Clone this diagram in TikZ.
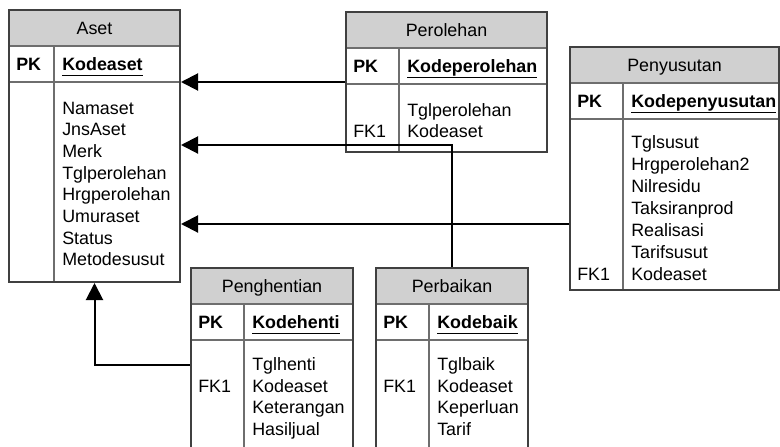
\documentclass[tikz,border=0pt]{standalone}
\usepackage{fontspec}
\setmainfont{Liberation Sans}
\usetikzlibrary{arrows.meta}

\definecolor{hdrfill}{RGB}{208,208,208}
\definecolor{edge}{RGB}{64,64,64}
\definecolor{rowline}{RGB}{110,110,110}

\newcommand{\entfont}{\fontsize{13.4}{16}\selectfont}

\tikzset{
  entbox/.style={draw=edge, line width=1.5pt, inner sep=0pt},
  hdrband/.style={fill=hdrfill},
  rowrule/.style={draw=rowline, line width=1.5pt},
  enttitle/.style={inner sep=0pt, anchor=base, font=\entfont},
  cell/.style={anchor=base west, inner sep=0pt, font=\entfont},
  keycell/.style={cell, font=\entfont\bfseries},
  link/.style={draw=black, line width=1.5pt, -{Triangle[length=12.75pt,width=12.75pt]}},
}

% entity table: name, x-left, x-right, y-top, y-bottom, x-divider, title, primary key
\newcommand{\ertable}[8]{%
  \fill[white] (#2,#4) rectangle (#3,#5);
  \fill[hdrband] (#2,#4) rectangle (#3,#4+36);
  \draw[rowrule] (#2,#4+36) -- (#3,#4+36);
  \draw[rowrule] (#2,#4+72) -- (#3,#4+72);
  \draw[rowrule] (#6,#4+36) -- (#6,#5);
  \node[entbox, minimum width={(#3-#2)*0.75pt}, minimum height={(#5-#4)*0.75pt}] (#1) at ({(#2+#3)/2},{(#4+#5)/2}) {};
  \node[enttitle] (#1-title) at ({(#2+#3)/2},#4+24) {#7};
  \node[keycell] (#1-pk) at (#2+7,#4+60) {PK};
  \node[keycell] (#1-key) at (#6+8,#4+60) {\underline{#8\vphantom{p}}};
}

\begin{document}
\begin{tikzpicture}[x=0.75pt,y=-0.75pt]
\useasboundingbox (0,0) rectangle (780,446);
\fill[white] (0,0) rectangle (780,446);
\clip (0,0) rectangle (780,446);

% tables
\ertable{aset}{9}{180}{10}{282}{54}{Aset}{Kodeaset}
\ertable{perolehan}{346}{547}{12}{152}{399}{Perolehan}{Kodeperolehan}
\ertable{penyusutan}{570}{779}{47}{290}{623}{Penyusutan}{Kodepenyusutan}
\ertable{penghentian}{191}{353}{268}{470}{244}{Penghentian}{Kodehenti}
\ertable{perbaikan}{376}{528}{268}{470}{429}{Perbaikan}{Kodebaik}

% attribute lists
\foreach \t [count=\i from 0] in {Namaset,JnsAset,Merk,Tglperolehan,Hrgperolehan,Umuraset,Status,Metodesusut}
  \node[cell] (aset-a\i) at (62,114+\i*21.7) {\t};

\foreach \t [count=\i from 0] in {Tglperolehan,Kodeaset}
  \node[cell] (perolehan-a\i) at (407,116+\i*21.7) {\t};
\node[cell] (perolehan-fk) at (353,137.7) {FK1};

\foreach \t [count=\i from 0] in {Tglsusut,Hrgperolehan2,Nilresidu,Taksiranprod,Realisasi,Tarifsusut,Kodeaset}
  \node[cell] (penyusutan-a\i) at (631,148.5+\i*22) {\t};
\node[cell] (penyusutan-fk) at (577,148.5+6*22) {FK1};

\foreach \t [count=\i from 0] in {Tglhenti,Kodeaset,Keterangan,Hasiljual}
  \node[cell] (penghentian-a\i) at (252,370.3+\i*21.7) {\t};
\node[cell] (penghentian-fk) at (198,392) {FK1};

\foreach \t [count=\i from 0] in {Tglbaik,Kodeaset,Keperluan,Tarif}
  \node[cell] (perbaikan-a\i) at (437,370.3+\i*21.7) {\t};
\node[cell] (perbaikan-fk) at (383,392) {FK1};

% levels of the relationship lines
\coordinate (lvl1) at (0,82);
\coordinate (lvl2) at (0,145);
\coordinate (lvl3) at (0,224);
\coordinate (lvl4) at (0,365);

% relationships
\draw[link] (perolehan.west |- lvl1) -- (aset.east |- lvl1);
\draw[link] (perbaikan.north) |- (aset.east |- lvl2);
\draw[link] (penyusutan.west |- lvl3) -- (aset.east |- lvl3);
\draw[link] (penghentian.west |- lvl4) -| (aset.south);
\end{tikzpicture}
\end{document}
